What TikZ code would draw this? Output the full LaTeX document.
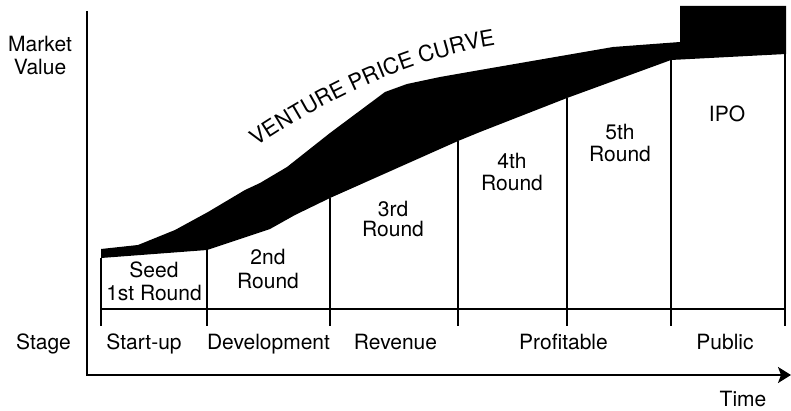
\documentclass[tikz,border=0pt]{standalone}
\usepackage{fontspec}
\setmainfont{TeX Gyre Heros}
\usetikzlibrary{arrows.meta,decorations.text}
\begin{document}
\begin{tikzpicture}[x=1pt,y=-1pt,
  lbl/.style={font=\fontsize{21}{21}\selectfont, inner sep=0pt, anchor=base},
  axisline/.style={line width=2pt, line join=miter},
  frameline/.style={line width=2pt},
  band/.style={fill=black, draw=none}]
\useasboundingbox (0,0) rectangle (791,411);
% black band (price curve)
\fill[band] (101,249) -- (138,245) -- (175,230) -- (208,212) -- (245,190) -- (260,183)
  -- (287,167) -- (330,133) -- (385,92) -- (407,84) -- (440,77) -- (480,70)
  -- (613,47) -- (680,42) -- (680,6) -- (786,6) -- (786,54)
  -- (671,60) -- (567,98) -- (480,132) -- (458,141) -- (330,198) -- (295,215)
  -- (270,229) -- (207,250) -- (101,258) -- cycle;
% dividers
\coordinate (t0) at (101,258); \coordinate (b0) at (101,326);
\coordinate (t1) at (207,250); \coordinate (b1) at (207,326);
\coordinate (t2) at (330,198); \coordinate (b2) at (330,326);
\coordinate (t3) at (458,141); \coordinate (b3) at (458,326);
\coordinate (t4) at (567,98);  \coordinate (b4) at (567,326);
\coordinate (t5) at (671,60);  \coordinate (b5) at (671,326);
\coordinate (t6) at (785,54);  \coordinate (b6) at (785,326);
\foreach \i in {0,...,6} { \draw[frameline] (t\i) -- (b\i); }
\coordinate (hl) at (101,309); \coordinate (hr) at (785,309);
\draw[frameline] (hl) -- (hr);
% axes
\coordinate (ytop) at (87,11); \coordinate (orig) at (87,375); \coordinate (xend) at (791,375);
\draw[axisline, -{Stealth[length=13pt,width=16pt,inset=3pt]}] (ytop) -- (orig) -- (xend);
% curve label
\path[decorate, decoration={text along path, text align=center,
  text={|\fontsize{22}{22}\selectfont|VENTURE PRICE CURVE}}]
  (248,153) .. controls (325,99) and (415,56) .. (506,44);
% axis labels
\node[lbl] (market) at (40,52) {Market};
\node[lbl] (value) at (40,75) {Value};
\node[lbl] (stage) at (43.5,349) {Stage};
\node[lbl] (time) at (743,406) {Time};
% stage labels
\node[lbl] (s1) at (144,349) {Start-up};
\node[lbl] (s2) at (268.5,349) {Development};
\node[lbl] (s3) at (395.5,349) {Revenue};
\node[lbl] (s4) at (563.5,349) {Profitable};
\node[lbl] (s5) at (725,349) {Public};
% round labels
\node[lbl] (r1a) at (154,277) {Seed};
\node[lbl] (r1b) at (154,300) {1st Round};
\node[lbl] (r2a) at (268,265) {2nd};
\node[lbl] (r2b) at (268,288) {Round};
\node[lbl] (r3a) at (393,217) {3rd};
\node[lbl] (r3b) at (393,237) {Round};
\node[lbl] (r4a) at (512,169) {4th};
\node[lbl] (r4b) at (512,191) {Round};
\node[lbl] (r5a) at (620,140) {5th};
\node[lbl] (r5b) at (620,162) {Round};
\node[lbl] (ipo) at (727,122) {IPO};
\end{tikzpicture}
\end{document}
